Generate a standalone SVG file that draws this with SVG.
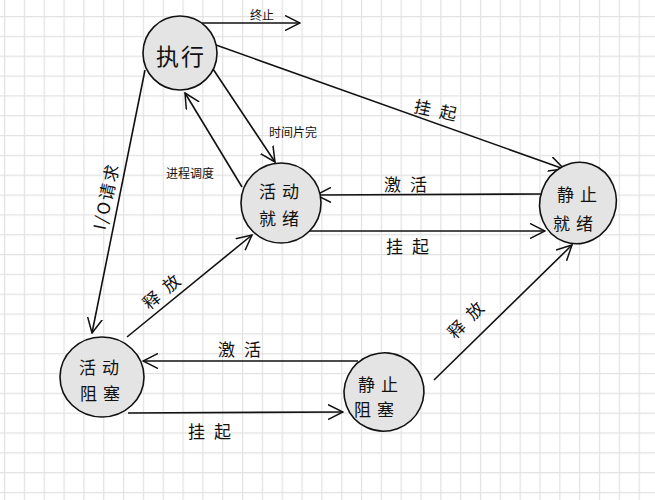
<svg xmlns="http://www.w3.org/2000/svg" width="655" height="500" viewBox="0 0 655 500">
<style>
.node{fill:#e4e4e4;stroke:#111;stroke-width:1.6}
.edge{fill:none;stroke:#111;stroke-width:1.6}
.t{font-family:"Noto Sans CJK SC","Noto Sans",sans-serif;fill:#111;text-anchor:middle;dominant-baseline:central}
.nl{font-size:17px;letter-spacing:6px}
.el{font-size:17px;letter-spacing:9px}
.sl{font-size:12px}
</style>
<defs>
<pattern id="grid" x="4" y="16" width="19.83" height="19.83" patternUnits="userSpaceOnUse">
<path d="M0.6 0V19.83M0 0.6H19.83" stroke="#e2e2e2" stroke-width="1.2" fill="none"/>
</pattern>
<marker id="arrL" viewBox="0 0 16 16" refX="15" refY="8" markerWidth="16" markerHeight="16" markerUnits="userSpaceOnUse" orient="auto">
<path d="M0,0.5 L15,8 L0,15.5" fill="none" stroke="#111" stroke-width="1.5"/>
</marker>
</defs>
<rect width="655" height="500" fill="#fff"/>
<rect width="655" height="500" fill="url(#grid)"/>

<g id="connectors">
<line class="edge" x1="198" y1="23" x2="300" y2="23" marker-end="url(#arrL)"/>
<text class="t sl" x="262" y="14">终止</text>

<line class="edge" x1="216" y1="45" x2="564" y2="169" marker-end="url(#arrL)"/>
<text class="t el" x="440" y="110" transform="rotate(12 440 110)">挂起</text>

<line class="edge" x1="213" y1="69" x2="275" y2="162" marker-end="url(#arrL)"/>
<text class="t sl" x="293" y="131">时间片完</text>

<line class="edge" x1="242" y1="187" x2="185" y2="93" marker-end="url(#arrL)"/>
<text class="t sl" x="190" y="172">进程调度</text>

<line class="edge" x1="145" y1="70" x2="92" y2="333" marker-end="url(#arrL)"/>
<text class="t el" x="105" y="196" transform="rotate(-78 105 196)" style="letter-spacing:2px">I/O请求</text>

<line class="edge" x1="127" y1="337" x2="252" y2="235" marker-end="url(#arrL)"/>
<text class="t el" x="164" y="288" transform="rotate(-40 164 288)">释放</text>

<line class="edge" x1="545" y1="194" x2="316" y2="195" marker-end="url(#arrL)"/>
<text class="t el" x="410" y="183">激活</text>

<line class="edge" x1="300" y1="231" x2="545" y2="231" marker-end="url(#arrL)"/>
<text class="t el" x="412" y="245">挂起</text>

<line class="edge" x1="358" y1="361" x2="143" y2="361" marker-end="url(#arrL)"/>
<text class="t el" x="244" y="348">激活</text>

<line class="edge" x1="128" y1="413" x2="343" y2="412" marker-end="url(#arrL)"/>
<text class="t el" x="214" y="430">挂起</text>

<line class="edge" x1="434" y1="380" x2="572" y2="245" marker-end="url(#arrL)"/>
<text class="t el" x="468" y="316" transform="rotate(-45 468 316)">释放</text>
</g>

<g id="node-exec">
<circle class="node" cx="180" cy="53" r="37"/>
<text class="t" x="181" y="55" style="font-size:23px;letter-spacing:2px">执行</text>
</g>

<g id="node-active-ready">
<circle class="node" cx="281" cy="203" r="40"/>
<text class="t nl" x="282" y="190">活动</text>
<text class="t nl" x="282" y="217">就绪</text>
</g>

<g id="node-static-ready">
<ellipse class="node" cx="578" cy="203" rx="38" ry="41" transform="rotate(20 578 203)"/>
<text class="t nl" x="580" y="193">静止</text>
<text class="t nl" x="576" y="222">就绪</text>
</g>

<g id="node-active-blocked">
<ellipse class="node" cx="102" cy="377" rx="42" ry="40"/>
<text class="t nl" x="102" y="366">活动</text>
<text class="t nl" x="103" y="392">阻塞</text>
</g>

<g id="node-static-blocked">
<ellipse class="node" cx="384" cy="392" rx="40" ry="39" transform="rotate(-20 384 392)"/>
<text class="t nl" x="381" y="383">静止</text>
<text class="t nl" x="377" y="408">阻塞</text>
</g>
</svg>
